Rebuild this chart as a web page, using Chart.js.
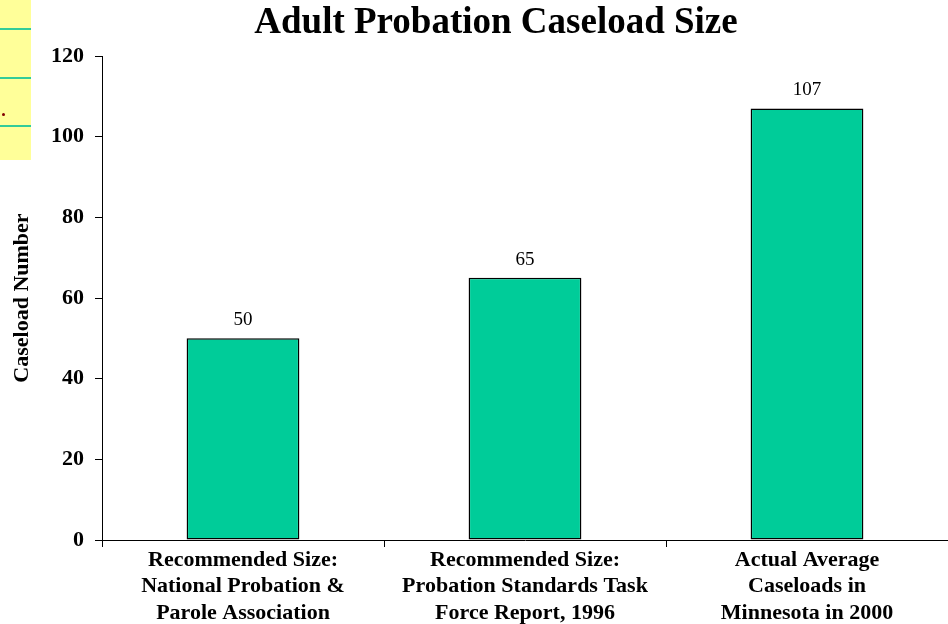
<!DOCTYPE html>
<html>
<head>
<meta charset="utf-8">
<script src="https://cdn.jsdelivr.net/npm/chart.js@4/dist/chart.umd.min.js"></script>
<style>
  html, body { margin: 0; padding: 0; background: #ffffff; }
  #wrap { position: relative; width: 948px; height: 624px; overflow: hidden; }
  /* slide-side strip peeking in at the top-left */
  #strip { position: absolute; left: 0; top: 0; width: 31px; height: 160px; background: #ffff99; }
  #strip .rule { position: absolute; left: 0; width: 31px; height: 2px; background: #33cc99; }
  #strip .dot { position: absolute; left: 2px; top: 113px; width: 3px; height: 3px; border-radius: 50%; background: #800000; }
  #chart { position: absolute; left: 0; top: 0; }
</style>
</head>
<body>
<div id="wrap">
  <div id="strip">
    <div class="rule" style="top:28px"></div>
    <div class="rule" style="top:77px"></div>
    <div class="rule" style="top:125px"></div>
    <div class="dot"></div>
  </div>
  <canvas id="chart" width="948" height="624"></canvas>
</div>
<script>
const categories = [
  ["Recommended Size:", "National Probation &", "Parole Association"],
  ["Recommended Size:", "Probation Standards Task", "Force Report, 1996"],
  ["Actual Average", "Caseloads in", "Minnesota in 2000"]
];
const caseloads = [50, 65, 107];
const yTicks = [0, 20, 40, 60, 80, 100, 120];

const chartTitle = "Adult Probation Caseload Size";
const yAxisTitle = "Caseload Number";

const serif = "'Liberation Serif', 'Times New Roman', serif";

// Heading drawn above the plot
const headingPlugin = {
  id: 'heading',
  afterDraw(chart) {
    const ctx = chart.ctx;
    ctx.save();
    ctx.font = "bold 37px " + serif;
    ctx.fillStyle = "#000";
    ctx.textAlign = "center";
    ctx.textBaseline = "alphabetic";
    ctx.fillText(chartTitle, chart.width / 2 + 22, 33);
    ctx.restore();
  }
};

// Value written above each bar
const valueLabelPlugin = {
  id: 'valueLabels',
  afterDatasetsDraw(chart) {
    const ctx = chart.ctx;
    const meta = chart.getDatasetMeta(0);
    const values = chart.data.datasets[0].data;
    ctx.save();
    ctx.font = "19px " + serif;
    ctx.fillStyle = "#000";
    ctx.textAlign = "center";
    ctx.textBaseline = "alphabetic";
    meta.data.forEach((bar, i) => {
      ctx.fillText(String(values[i]), bar.x, bar.y - 13);
    });
    ctx.restore();
  }
};

new Chart(document.getElementById('chart'), {
  type: 'bar',
  data: {
    labels: categories,
    datasets: [{
      data: caseloads,
      backgroundColor: '#00cc99',
      borderColor: '#000000',
      borderWidth: 1.5,
      borderSkipped: false,
      barPercentage: 0.4,
      categoryPercentage: 1.0
    }]
  },
  options: {
    responsive: false,
    animation: false,
    devicePixelRatio: 1,
    layout: { padding: { top: 56, right: 0, bottom: 0, left: 0 } },
    plugins: {
      legend: { display: false },
      title: { display: false },
      tooltip: { enabled: false }
    },
    scales: {
      x: {
        offset: true,
        grid: {
          offset: true,
          drawOnChartArea: false,
          drawTicks: true,
          tickLength: 7,
          color: '#000000',
          lineWidth: 1
        },
        border: { display: true, color: '#000000', width: 1 },
        ticks: {
          color: '#000000',
          padding: 0,
          maxRotation: 0,
          autoSkip: false,
          font: { family: serif, size: 22, weight: 'bold', lineHeight: 1.2 }
        },
        afterFit(scale) { scale.height = 84; }
      },
      y: {
        min: 0,
        max: 120,
        afterBuildTicks(scale) { scale.ticks = yTicks.map(v => ({ value: v })); },
        grid: {
          drawOnChartArea: false,
          drawTicks: true,
          tickLength: 7,
          color: '#000000',
          lineWidth: 1
        },
        border: { display: true, color: '#000000', width: 1 },
        ticks: {
          color: '#000000',
          padding: 11,
          font: { family: serif, size: 22, weight: 'bold' }
        },
        title: {
          display: true,
          text: yAxisTitle,
          color: '#000000',
          padding: { top: 9, bottom: 0 },
          font: { family: serif, size: 22, weight: 'bold', lineHeight: 1.2 }
        },
        afterFit(scale) { scale.width = 102; }
      }
    }
  },
  plugins: [headingPlugin, valueLabelPlugin]
});
</script>
</body>
</html>
